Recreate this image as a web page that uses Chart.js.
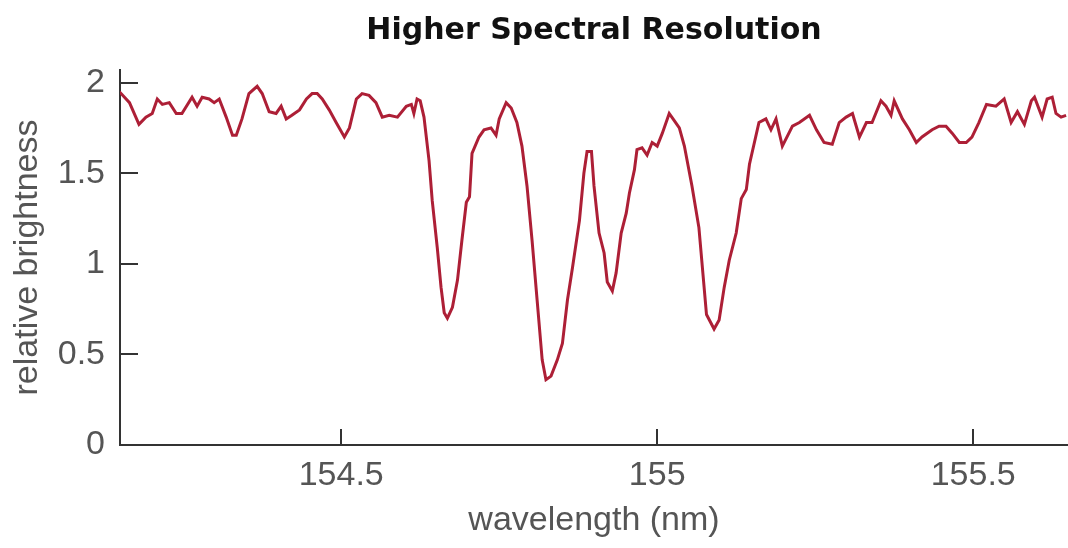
<!DOCTYPE html>
<html lang="en">
<head>
  <meta charset="UTF-8">
  <title>Higher Spectral Resolution</title>
  <script src="https://cdn.jsdelivr.net/npm/chart.js"></script>
  <style>
    html, body { margin: 0; padding: 0; background: #fff; }
    #wrap { width: 1068px; height: 548px; }
  </style>
</head>
<body>
  <div id="wrap">
    <canvas id="spectrumChart"></canvas>
  </div>

  <script>
    // wavelength (nm) and relative brightness
    const wavelength = [
      154.149, 154.165, 154.180, 154.191, 154.201, 154.209, 154.217, 154.228, 154.239, 154.248,
      154.264, 154.272, 154.280, 154.291, 154.299, 154.307, 154.318, 154.328, 154.334, 154.343,
      154.354, 154.367, 154.375, 154.386, 154.397, 154.405, 154.413, 154.422, 154.434, 154.445,
      154.454, 154.462, 154.470, 154.481, 154.492, 154.505, 154.513, 154.524, 154.533, 154.544,
      154.555, 154.565, 154.576, 154.589, 154.603, 154.611, 154.615, 154.620, 154.625, 154.631,
      154.639, 154.644, 154.652, 154.658, 154.663, 154.668, 154.676, 154.684, 154.691, 154.698,
      154.703, 154.707, 154.718, 154.726, 154.737, 154.745, 154.750, 154.761, 154.769, 154.778,
      154.786, 154.794, 154.802, 154.810, 154.818, 154.824, 154.832, 154.842, 154.850, 154.858,
      154.866, 154.877, 154.884, 154.889, 154.896, 154.900, 154.908, 154.916, 154.921, 154.929,
      154.935, 154.943, 154.951, 154.956, 154.964, 154.968, 154.976, 154.984, 154.992, 155.000,
      155.008, 155.019, 155.027, 155.035, 155.043, 155.055, 155.066, 155.078, 155.090, 155.098,
      155.106, 155.114, 155.125, 155.133, 155.141, 155.146, 155.161, 155.172, 155.180, 155.188,
      155.198, 155.214, 155.225, 155.241, 155.252, 155.264, 155.277, 155.288, 155.299, 155.309,
      155.320, 155.331, 155.340, 155.354, 155.362, 155.370, 155.375, 155.388, 155.399, 155.410,
      155.419, 155.435, 155.446, 155.457, 155.467, 155.478, 155.489, 155.498, 155.509, 155.521,
      155.536, 155.549, 155.560, 155.570, 155.581, 155.592, 155.597, 155.609, 155.617, 155.625,
      155.631, 155.639, 155.647
    ];
    const brightness = [
      1.95, 1.89, 1.77, 1.81, 1.83, 1.91, 1.88, 1.89, 1.83, 1.83,
      1.92, 1.87, 1.92, 1.91, 1.89, 1.91, 1.81, 1.71, 1.71, 1.80,
      1.94, 1.98, 1.94, 1.84, 1.83, 1.87, 1.80, 1.82, 1.85, 1.91,
      1.94, 1.94, 1.91, 1.85, 1.78, 1.70, 1.75, 1.91, 1.94, 1.93,
      1.89, 1.81, 1.82, 1.81, 1.87, 1.88, 1.83, 1.91, 1.90, 1.81,
      1.57, 1.35, 1.09, 0.87, 0.73, 0.70, 0.76, 0.91, 1.13, 1.34,
      1.37, 1.61, 1.70, 1.74, 1.75, 1.71, 1.80, 1.89, 1.86, 1.78,
      1.65, 1.43, 1.13, 0.80, 0.47, 0.36, 0.38, 0.47, 0.56, 0.80,
      0.98, 1.24, 1.50, 1.62, 1.62, 1.43, 1.17, 1.06, 0.90, 0.85,
      0.95, 1.17, 1.28, 1.39, 1.52, 1.63, 1.64, 1.60, 1.67, 1.65,
      1.72, 1.83, 1.79, 1.75, 1.65, 1.43, 1.20, 0.72, 0.64, 0.69,
      0.87, 1.02, 1.17, 1.36, 1.41, 1.55, 1.78, 1.80, 1.74, 1.80,
      1.65, 1.76, 1.78, 1.82, 1.74, 1.67, 1.66, 1.78, 1.81, 1.83,
      1.70, 1.78, 1.78, 1.90, 1.87, 1.82, 1.90, 1.80, 1.74, 1.67,
      1.70, 1.74, 1.76, 1.76, 1.72, 1.67, 1.67, 1.70, 1.78, 1.88,
      1.87, 1.91, 1.78, 1.84, 1.77, 1.90, 1.92, 1.81, 1.91, 1.92,
      1.83, 1.81, 1.82
    ];
    const xTicks = [154.5, 155, 155.5];
    const yTicks = [0, 0.5, 1, 1.5, 2];

    const axisFont = { family: "'Liberation Sans', Arial, sans-serif", size: 34 };
    const textColor = '#555';

    // short tick marks drawn inside the plot area
    const innerTicks = {
      id: 'innerTicks',
      afterDatasetsDraw(chart) {
        const { ctx, chartArea, scales } = chart;
        ctx.save();
        ctx.strokeStyle = '#333';
        ctx.lineWidth = 2;
        ctx.beginPath();
        xTicks.forEach(v => {
          const x = Math.round(scales.x.getPixelForValue(v));
          ctx.moveTo(x, chartArea.bottom);
          ctx.lineTo(x, chartArea.bottom - 16);
        });
        yTicks.forEach(v => {
          const y = Math.round(scales.y.getPixelForValue(v));
          ctx.moveTo(chartArea.left, y);
          ctx.lineTo(chartArea.left + 18, y);
        });
        ctx.stroke();
        ctx.restore();
      }
    };

    const data = {
      datasets: [{
        label: 'relative brightness',
        data: wavelength.map((w, i) => ({ x: w, y: brightness[i] })),
        borderColor: '#ad1f36',
        borderWidth: 3,
        pointRadius: 0,
        tension: 0,
        fill: false
      }]
    };

    const config = {
      type: 'line',
      data: data,
      options: {
        responsive: true,
        maintainAspectRatio: false,
        animation: false,
        layout: { padding: { left: 0, right: 0, top: 0, bottom: 0 } },
        plugins: {
          legend: { display: false },
          tooltip: { enabled: false },
          title: {
            display: true,
            fullSize: false,
            text: 'Higher Spectral Resolution',
            color: '#111',
            font: { family: "'DejaVu Sans', sans-serif", size: 30, weight: 'bold' },
            padding: { top: 13, bottom: 21 }
          }
        },
        scales: {
          x: {
            type: 'linear',
            min: 154.15,
            max: 155.65,
            afterBuildTicks: scale => { scale.ticks = xTicks.map(v => ({ value: v })); },
            afterFit: scale => { scale.height = 103; },
            grid: { display: false, drawTicks: false },
            border: { color: '#333', width: 2 },
            ticks: {
              color: textColor,
              font: axisFont,
              padding: 10,
              maxRotation: 0,
              autoSkip: false,
              callback: v => String(v)
            },
            title: {
              display: true,
              text: 'wavelength (nm)',
              color: textColor,
              font: axisFont,
              padding: { top: 0, bottom: 7 }
            }
          },
          y: {
            min: 0,
            max: 2.07,
            afterBuildTicks: scale => { scale.ticks = yTicks.map(v => ({ value: v })); },
            afterFit: scale => { scale.width = 120; },
            grid: { display: false, drawTicks: false },
            border: { color: '#333', width: 2 },
            ticks: {
              color: textColor,
              font: axisFont,
              padding: 15,
              callback: v => String(v)
            },
            title: {
              display: true,
              text: 'relative brightness',
              color: textColor,
              font: axisFont,
              padding: { top: 7, bottom: 0 }
            }
          }
        }
      },
      plugins: [innerTicks]
    };

    new Chart(document.getElementById('spectrumChart'), config);
  </script>
</body>
</html>
